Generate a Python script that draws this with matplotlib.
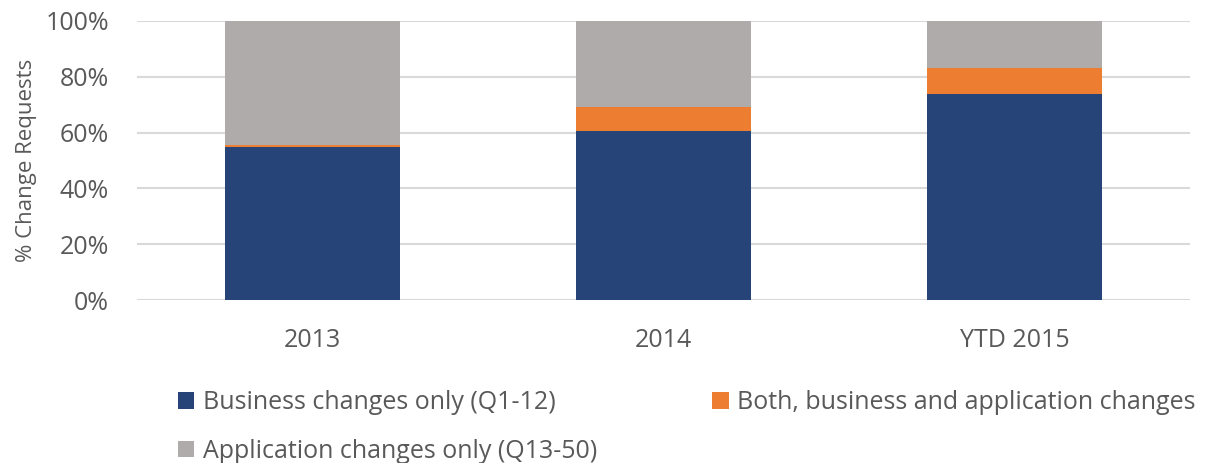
import matplotlib
matplotlib.use("Agg")
import matplotlib.pyplot as plt
from matplotlib.ticker import PercentFormatter

categories = ["2013", "2014", "YTD 2015"]
business_only = [54.9, 60.5, 73.9]
both_changes = [0.8, 8.8, 9.4]
application_only = [44.3, 30.7, 16.7]

series_names = ["Business changes only (Q1-12)",
                "Both, business and application changes",
                "Application changes only (Q13-50)"]
colors = ["#264478", "#ED7D31", "#AFABAB"]
text_color = "#595959"

plt.rcParams['font.family'] = ['Open Sans', 'DejaVu Sans']

fig = plt.figure(figsize=(12.12, 4.63), dpi=100)
ax = fig.add_axes([137/1212, 1-300/463, (1190-137)/1212, (300-21)/463])

x = list(range(len(categories)))
b1 = ax.bar(x, business_only, width=0.5, color=colors[0], zorder=3)
bottom2 = business_only
b2 = ax.bar(x, both_changes, width=0.5, bottom=bottom2, color=colors[1], zorder=3)
bottom3 = [a + b for a, b in zip(business_only, both_changes)]
b3 = ax.bar(x, application_only, width=0.5, bottom=bottom3, color=colors[2], zorder=3)

ax.set_xlim(-0.5, 2.5)
ax.set_ylim(0, 100)
ax.set_yticks([0, 20, 40, 60, 80, 100])
ax.yaxis.set_major_formatter(PercentFormatter(decimals=0))
ax.set_xticks(x)
ax.set_xticklabels(categories)
ax.tick_params(axis='both', length=0, labelsize=18, labelcolor=text_color)
ax.tick_params(axis='x', pad=20)
ax.tick_params(axis='y', pad=20)
ax.grid(axis='y', color='#D9D9D9', linewidth=1.5, zorder=0)
for s in ax.spines.values():
    s.set_visible(False)
ax.set_ylabel("% Change Requests", fontsize=16, color=text_color, labelpad=6)

handles = [b1, b3, b2]
labels = [series_names[0], series_names[2], series_names[1]]
fig.legend(handles, labels, ncol=2, loc='upper left',
           bbox_to_anchor=(178/1212, 1-390/463), frameon=False,
           fontsize=18, labelcolor=text_color, handlelength=0.65, handleheight=0.65,
           handletextpad=0.35, columnspacing=4.6, labelspacing=0.95, borderaxespad=0, borderpad=0)

fig.savefig("out.png", dpi=100)
